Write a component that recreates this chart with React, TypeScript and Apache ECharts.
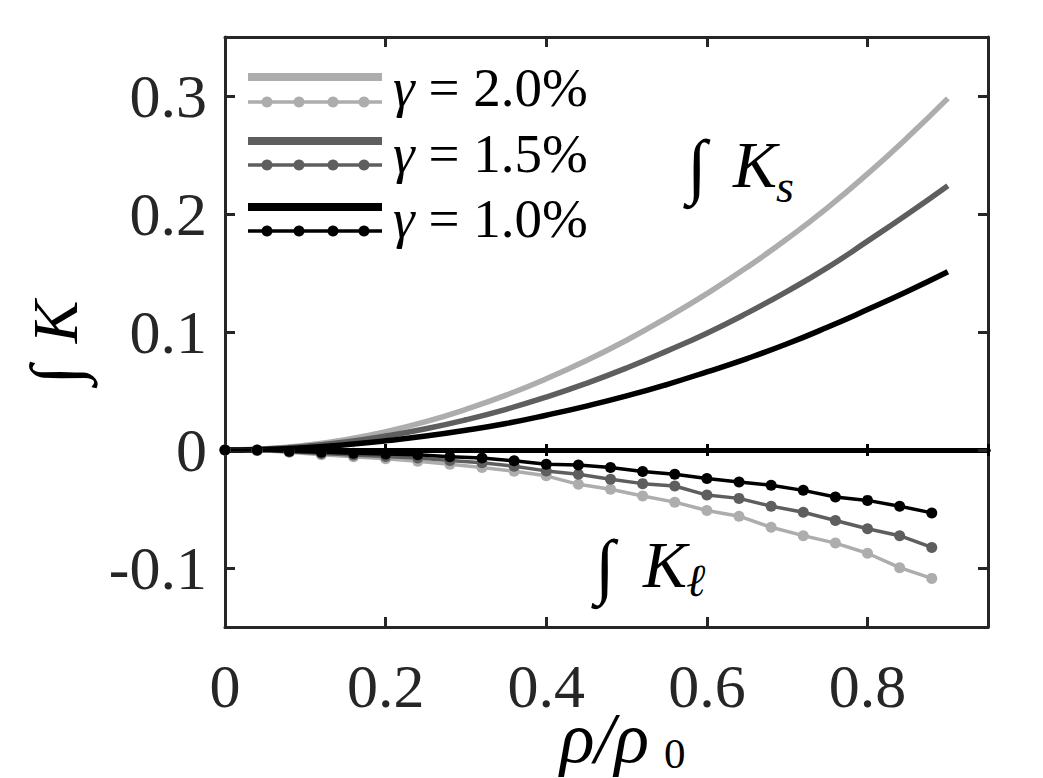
import React, { useEffect, useRef } from "react";
import * as echarts from "echarts";

// ---- data ----
const rhoSolid = [0, 0.05, 0.1, 0.15, 0.2, 0.25, 0.3, 0.35, 0.4, 0.45, 0.5, 0.55, 0.6, 0.65, 0.7, 0.75, 0.8, 0.85, 0.9];
const ks20 = [0, 0.001, 0.004, 0.0088, 0.0155, 0.024, 0.0345, 0.0465, 0.0603, 0.0758, 0.093, 0.112, 0.1325, 0.1548, 0.179, 0.2052, 0.234, 0.265, 0.298];
const ks15 = [0, 0.0008, 0.0031, 0.0068, 0.0118, 0.018, 0.0256, 0.0345, 0.0448, 0.0565, 0.0695, 0.0838, 0.099, 0.116, 0.1345, 0.1545, 0.177, 0.2, 0.224];
const ks10 = [0, 0.0005, 0.002, 0.0045, 0.0078, 0.0118, 0.0167, 0.0225, 0.0295, 0.0372, 0.0458, 0.0555, 0.0662, 0.0775, 0.09, 0.104, 0.119, 0.1345, 0.151];

const rhoDots = [0, 0.04, 0.08, 0.12, 0.16, 0.2, 0.24, 0.28, 0.32, 0.36, 0.4, 0.44, 0.48, 0.52, 0.56, 0.6, 0.64, 0.68, 0.72, 0.76, 0.8, 0.84, 0.88];
const kl20 = [0, -0.0005, -0.002, -0.004, -0.0058, -0.0075, -0.0095, -0.012, -0.0148, -0.018, -0.0219, -0.0291, -0.0333, -0.039, -0.0442, -0.0513, -0.0561, -0.0655, -0.0726, -0.0789, -0.0875, -0.0997, -0.1088];
const kl15 = [0, -0.0003, -0.0015, -0.003, -0.0043, -0.0055, -0.0068, -0.0088, -0.0108, -0.0138, -0.0177, -0.0205, -0.0248, -0.0285, -0.0305, -0.0382, -0.041, -0.0476, -0.0527, -0.0598, -0.0667, -0.0726, -0.0826];
const kl10 = [0, 0, -0.0011, -0.002, -0.0028, -0.0034, -0.004, -0.0057, -0.0068, -0.0091, -0.012, -0.0128, -0.0148, -0.0182, -0.0205, -0.0242, -0.0271, -0.0299, -0.0342, -0.0399, -0.0427, -0.0476, -0.0533];

const xTickLabels = [0, 0.2, 0.4, 0.6, 0.8];
const yTickLabels = [-0.1, 0, 0.1, 0.2, 0.3];
const gammaLabels = ["2.0%", "1.5%", "1.0%"];
const seriesColors = ["#adadad", "#5e5e5e", "#000000"];

const SERIF = "'Liberation Serif', 'DejaVu Serif', serif";
const AXIS = "#262626";

const pairs = (xs: number[], ys: number[]) => xs.map((x, i) => [x, ys[i]]);
const tickFmt = (ticks: number[]) => (v: number) => {
  const t = ticks.find((k) => Math.abs(k - v) < 1e-9);
  return t === undefined ? "" : String(t);
};

export default function App() {
  const ref = useRef<HTMLDivElement>(null);
  useEffect(() => {
    if (!ref.current) return;
    const chart = echarts.init(ref.current, undefined, { renderer: "svg" });

    const frameX = (pos: "top" | "bottom", labels: boolean) => ({
      type: "value",
      min: 0,
      max: 0.95,
      interval: 0.2,
      position: pos,
      axisLine: { show: true, onZero: false, lineStyle: { color: AXIS, width: 3 } },
      axisTick: { show: true, inside: true, length: 10, lineStyle: { color: AXIS, width: 3 } },
      axisLabel: labels
        ? { show: true, formatter: tickFmt(xTickLabels), fontSize: 62, lineHeight: 46, fontFamily: SERIF, color: AXIS, margin: 36 }
        : { show: false },
      splitLine: { show: false },
    });
    const zeroX = (inside: boolean) => ({
      type: "value",
      min: 0,
      max: 0.95,
      interval: 0.2,
      position: "bottom",
      axisLine: { show: true, onZero: true, onZeroAxisIndex: 0, lineStyle: { color: "#000", width: 5 } },
      axisTick: { show: true, inside, length: 6, lineStyle: { color: "#000", width: 3 } },
      axisLabel: { show: false },
      splitLine: { show: false },
    });
    const frameY = (pos: "left" | "right", labels: boolean) => ({
      type: "value",
      min: -0.15,
      max: 0.35,
      splitNumber: 5,
      position: pos,
      axisLine: { show: true, onZero: false, lineStyle: { color: AXIS, width: 3 } },
      axisTick: { show: true, inside: true, length: 10, lineStyle: { color: AXIS, width: 3 } },
      axisLabel: labels
        ? { show: true, formatter: tickFmt(yTickLabels), fontSize: 62, fontFamily: SERIF, color: AXIS, margin: 18 }
        : { show: false },
      splitLine: { show: false },
    });

    const solid = [ks20, ks15, ks10];
    const dotted = [kl20, kl15, kl10];
    const series: any[] = [];
    solid.forEach((d, i) => {
      series.push({
        type: "line",
        name: "Ks " + gammaLabels[i],
        data: pairs(rhoSolid, d),
        smooth: true,
        showSymbol: false,
        symbol: "none",
        lineStyle: { color: seriesColors[i], width: 5.5 },
        z: 3,
      });
    });
    dotted.forEach((d, i) => {
      series.push({
        type: "line",
        name: "Kl " + gammaLabels[i],
        data: pairs(rhoDots, d),
        symbol: "circle",
        symbolSize: 11,
        itemStyle: { color: seriesColors[i] },
        lineStyle: { color: seriesColors[i], width: 3.5 },
        z: 3,
      });
    });

    // legend drawn as graphic (paired solid + dotted lines share a label)
    const graphics: any[] = [];
    const solidY = [77, 141, 207];
    const dotY = [102, 165, 231];
    const textY = [87, 153, 218];
    const markX = [267, 299, 333, 364];
    gammaLabels.forEach((g, i) => {
      graphics.push({
        type: "line",
        shape: { x1: 248, y1: solidY[i], x2: 382, y2: solidY[i] },
        style: { stroke: seriesColors[i], lineWidth: 8 },
      });
      graphics.push({
        type: "line",
        shape: { x1: 248, y1: dotY[i], x2: 382, y2: dotY[i] },
        style: { stroke: seriesColors[i], lineWidth: 3.5 },
      });
      markX.forEach((mx) =>
        graphics.push({ type: "circle", shape: { cx: mx, cy: dotY[i], r: 5.5 }, style: { fill: seriesColors[i] } })
      );
      graphics.push({
        type: "text",
        x: 393,
        y: textY[i],
        style: {
          text: "{g|γ} = " + g,
          rich: { g: { fontStyle: "italic", fontSize: 55, fontFamily: SERIF, fill: "#000" } },
          fontSize: 55,
          fontFamily: SERIF,
          fill: "#000",
          align: "left",
          verticalAlign: "middle",
        },
      });
    });

    // annotations
    const txt = (x: number, y: number, s: string, size: number, italic: boolean, lineHeight?: number) => ({
      type: "text",
      x,
      y,
      style: {
        text: s,
        fontSize: size,
        lineHeight,
        fontFamily: SERIF,
        fontStyle: italic ? "italic" : "normal",
        fill: "#000",
        align: "left",
        verticalAlign: "middle",
      },
    });
    graphics.push(txt(687, 166, "∫", 72, false));
    graphics.push(txt(733, 164, "K", 66, true));
    graphics.push(txt(776, 186, "s", 46, true));

    graphics.push(txt(595, 566, "∫", 72, false));
    graphics.push(txt(643, 564, "K", 66, true));
    graphics.push(txt(686, 580, "ℓ", 46, true));

    // y-axis title (rotated)
    graphics.push({
      type: "text",
      x: 55,
      y: 375,
      rotation: Math.PI / 2,
      style: { text: "∫", fontSize: 70, fontFamily: SERIF, fill: "#000", align: "center", verticalAlign: "middle" },
    });
    graphics.push({
      type: "text",
      x: 55,
      y: 322,
      rotation: Math.PI / 2,
      style: { text: "K", fontSize: 64, fontFamily: SERIF, fontStyle: "italic", fill: "#000", align: "center", verticalAlign: "middle" },
    });

    // x-axis title
    graphics.push(txt(560, 738, "ρ/ρ", 72, true, 50));
    graphics.push(txt(664, 753, "0", 43, false, 34));

    chart.setOption({
      animation: false,
      backgroundColor: "#ffffff",
      grid: { left: 225, right: 55, top: 37, bottom: 151 },
      xAxis: [frameX("bottom", true), frameX("top", false), zeroX(true), zeroX(false)],
      yAxis: [frameY("left", true), frameY("right", false)],
      series,
      graphic: graphics,
    });

    return () => chart.dispose();
  }, []);

  return <div ref={ref} style={{ position: "absolute", left: 0, top: 0, width: 1043, height: 778 }} />;
}
